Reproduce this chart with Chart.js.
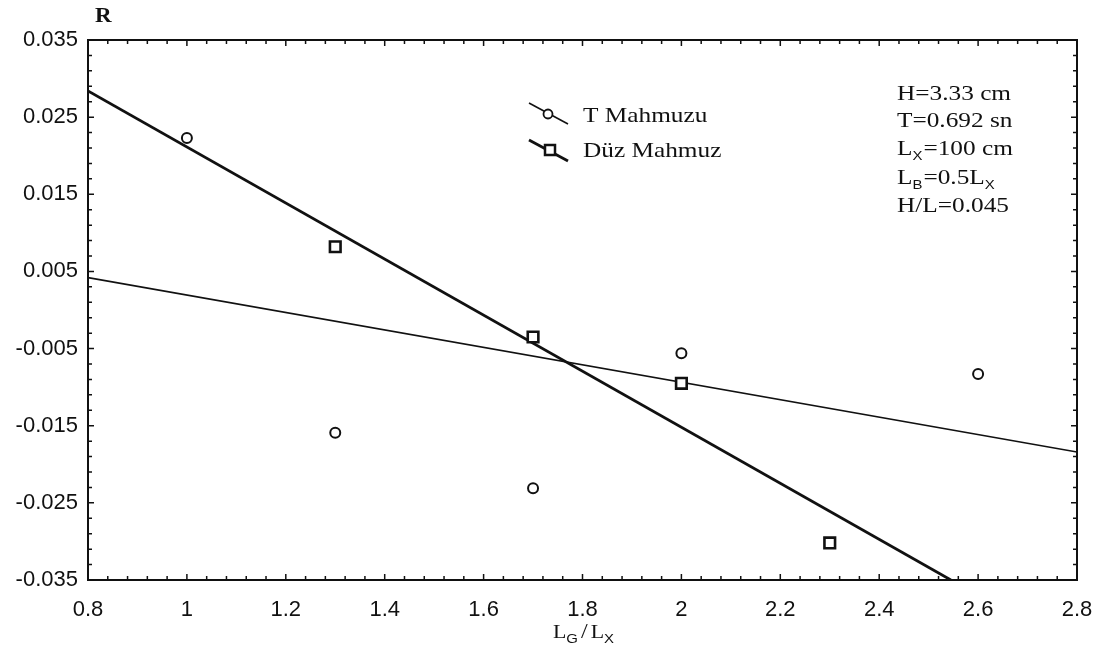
<!DOCTYPE html>
<html>
<head>
<meta charset="utf-8">
<title>R - LG/LX</title>
<script src="https://cdn.jsdelivr.net/npm/chart.js@4/dist/chart.umd.min.js"></script>
<style>
  html, body { margin: 0; padding: 0; background: #ffffff; }
  #wrap { width: 1111px; height: 656px; }
</style>
</head>
<body>
<div id="wrap"><canvas id="c" width="1111" height="656"></canvas></div>
<script>
// Measured values: T spur (T Mahmuzu) and straight spur (Düz Mahmuz)
const lgRatioT = [1.0, 1.3, 1.7, 2.0, 2.6];
const rT = [0.0223, -0.0159, -0.0231, -0.0056, -0.0083];

const lgRatioD = [1.3, 1.7, 2.0, 2.3];
const rD = [0.0082, -0.0035, -0.0095, -0.0302];

// Fitted trend lines (end points)
const fitTx = [0.8, 2.8];
const fitTy = [0.0042, -0.0184];
const fitDx = [0.8, 2.545];
const fitDy = [0.0284, -0.035];

// Axis ranges and ticks
const xMin = 0.8, xMax = 2.8, xStep = 0.2, xMinorStep = 0.04;
const yMin = -0.035, yMax = 0.035, yStep = 0.01, yMinorStep = 0.002;

// Parameter box text: alternating normal text and subscripts
const paramLines = [
  ['H=3.33 cm'],
  ['T=0.692 sn'],
  ['L', 'X', '=100 cm'],
  ['L', 'B', '=0.5L', 'X'],
  ['H/L=0.045']
];

const pts = (xs, ys) => xs.map((x, i) => ({ x: x, y: ys[i] }));

const SERIF = '"Liberation Serif", "Times New Roman", serif';
const SANS = '"Liberation Sans", Arial, sans-serif';
const INK = '#111111';

// Draws frame, inward ticks, legend, parameter text and axis titles
const decorations = {
  id: 'decorations',
  afterDraw(chart) {
    const ctx = chart.ctx;
    const a = chart.chartArea;
    const xs = chart.scales.x, ys = chart.scales.y;
    ctx.save();
    ctx.strokeStyle = INK;
    ctx.fillStyle = INK;

    // frame
    ctx.lineWidth = 2;
    ctx.strokeRect(a.left, a.top, a.right - a.left, a.bottom - a.top);

    // ticks on all four sides, pointing inward
    ctx.lineWidth = 1.5;
    ctx.beginPath();
    const nx = Math.round((xMax - xMin) / xMinorStep);
    for (let i = 0; i <= nx; i++) {
      const v = xMin + i * xMinorStep;
      const px = xs.getPixelForValue(v);
      const len = (i % 5 === 0) ? 6 : 4;
      ctx.moveTo(px, a.bottom); ctx.lineTo(px, a.bottom - len);
      ctx.moveTo(px, a.top); ctx.lineTo(px, a.top + len);
    }
    const ny = Math.round((yMax - yMin) / yMinorStep);
    for (let i = 0; i <= ny; i++) {
      const v = yMin + i * yMinorStep;
      const py = ys.getPixelForValue(v);
      const len = (i % 5 === 0) ? 6 : 4;
      ctx.moveTo(a.left, py); ctx.lineTo(a.left + len, py);
      ctx.moveTo(a.right, py); ctx.lineTo(a.right - len, py);
    }
    ctx.stroke();

    // horizontally stretched text helper
    const sx = 1.15;
    const text = (str, x, y, font) => {
      ctx.save();
      ctx.font = font;
      ctx.translate(x, y);
      ctx.scale(sx, 1);
      ctx.fillText(str, 0, 0);
      const w = ctx.measureText(str).width * sx;
      ctx.restore();
      return w;
    };
    ctx.textBaseline = 'alphabetic';
    ctx.textAlign = 'left';

    // legend
    const ds = chart.data.datasets;
    const legendRows = [
      { label: ds[0].label, lineW: ds[2].borderWidth, style: 'circle', y0: 103, y1: 124, mx: 548, my: 114, base: 122 },
      { label: ds[1].label, lineW: ds[3].borderWidth, style: 'rect', y0: 140, y1: 161, mx: 550, my: 150, base: 157 }
    ];
    legendRows.forEach(r => {
      ctx.lineWidth = r.lineW;
      ctx.beginPath();
      ctx.moveTo(529, r.y0); ctx.lineTo(568, r.y1);
      ctx.stroke();
      ctx.lineWidth = r.style === 'circle' ? 1.8 : 2.5;
      ctx.fillStyle = '#ffffff';
      ctx.beginPath();
      if (r.style === 'circle') {
        ctx.arc(r.mx, r.my, 4.5, 0, Math.PI * 2);
      } else {
        ctx.rect(r.mx - 5, r.my - 5, 10, 10);
      }
      ctx.fill();
      ctx.stroke();
      ctx.fillStyle = INK;
      text(r.label, 583, r.base, '22px ' + SERIF);
    });

    // parameter block
    const bases = [100, 127, 155, 184, 212];
    paramLines.forEach((parts, i) => {
      let x = 897;
      const b = bases[i];
      parts.forEach((p, j) => {
        if (j % 2 === 1) {
          x += text(p, x, b + 5, '13px ' + SANS) + 1;
        } else {
          x += text(p, x, b, '22px ' + SERIF);
        }
      });
    });

    // y axis title
    text('R', 95, 22, 'bold 20px ' + SERIF);

    // x axis title L_G / L_X
    let tx = 553;
    const tb = 638;
    tx += text('L', tx, tb, '19px ' + SERIF);
    tx += text('G', tx, tb + 5, '13px ' + SANS) + 3;
    tx += text('/', tx, tb, '21px ' + SERIF) + 3;
    tx += text('L', tx, tb, '19px ' + SERIF);
    text('X', tx, tb + 5, '13px ' + SANS);

    ctx.restore();
  }
};

new Chart(document.getElementById('c'), {
  type: 'scatter',
  data: {
    datasets: [
      {
        label: 'T Mahmuzu',
        data: pts(lgRatioT, rT),
        pointStyle: 'circle',
        pointRadius: 5,
        pointBorderWidth: 2,
        borderColor: INK,
        backgroundColor: '#ffffff',
        showLine: false
      },
      {
        label: 'Düz Mahmuz',
        data: pts(lgRatioD, rD),
        pointStyle: 'rect',
        pointRadius: 7.5,
        pointBorderWidth: 2.6,
        borderColor: INK,
        backgroundColor: '#ffffff',
        showLine: false
      },
      {
        label: 'T Mahmuzu trend',
        data: pts(fitTx, fitTy),
        showLine: true,
        pointRadius: 0,
        borderWidth: 1.6,
        borderColor: INK,
        order: 5
      },
      {
        label: 'Düz Mahmuz trend',
        data: pts(fitDx, fitDy),
        showLine: true,
        pointRadius: 0,
        borderWidth: 2.8,
        borderColor: INK,
        order: 5
      }
    ]
  },
  options: {
    responsive: false,
    devicePixelRatio: 1,
    animation: false,
    layout: { padding: { left: 0, top: 40, right: 34, bottom: 0 } },
    plugins: {
      legend: { display: false },
      tooltip: { enabled: false }
    },
    scales: {
      x: {
        type: 'linear',
        min: xMin, max: xMax,
        grid: { display: false, drawTicks: false },
        border: { display: false },
        ticks: {
          stepSize: xStep,
          autoSkip: false,
          maxRotation: 0,
          padding: 17,
          color: INK,
          font: { family: SANS, size: 22 },
          callback: v => String(Number(v.toFixed(1)))
        },
        afterFit: s => { s.height = 76; }
      },
      y: {
        type: 'linear',
        min: yMin, max: yMax,
        grid: { display: false, drawTicks: false },
        border: { display: false },
        ticks: {
          stepSize: yStep,
          autoSkip: false,
          padding: 10,
          color: INK,
          font: { family: SANS, size: 22 },
          callback: v => (Math.abs(v) < 1e-9 ? 0 : v).toFixed(3)
        },
        afterFit: s => { s.width = 88; }
      }
    }
  },
  plugins: [decorations]
});
</script>
</body>
</html>
